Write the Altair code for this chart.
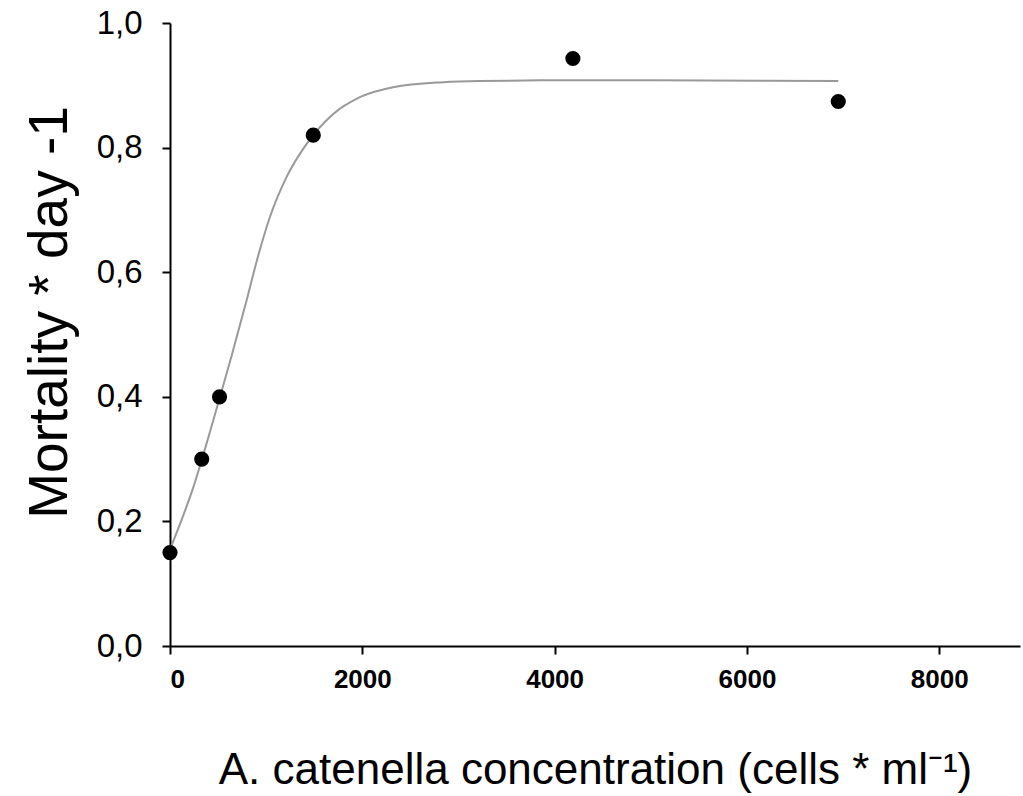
import altair as alt
import pandas as pd

# observed points
obs_x = [0, 330, 515, 1490, 4190, 6950]
obs_y = [0.15, 0.30, 0.40, 0.82, 0.943, 0.874]

# fitted curve
fit_x = [0, 139, 243, 329, 416, 520, 641, 797, 920, 1040, 1213, 1421, 1698, 1975, 2321, 2841, 3222, 4000, 5000, 6950]
fit_y = [0.155, 0.210, 0.255, 0.298, 0.344, 0.400, 0.466, 0.555, 0.628, 0.689, 0.753, 0.806, 0.854, 0.881, 0.897, 0.905, 0.907, 0.908, 0.908, 0.907]

x_ticks = [0, 2000, 4000, 6000, 8000]
y_ticks = [0.0, 0.2, 0.4, 0.6, 0.8, 1.0]

obs = pd.DataFrame({"x": obs_x, "y": obs_y})
fit = pd.DataFrame({"x": fit_x, "y": fit_y})

FONT = "Liberation Sans"

xscale = alt.Scale(domain=[0, 8840], nice=False, zero=False)
yscale = alt.Scale(domain=[0, 1], nice=False)

xaxis = alt.Axis(
    values=x_ticks, format="d", grid=False,
    title="A. catenella concentration (cells * ml\u207b\u00b9)",
    titleFont=FONT, titleFontSize=44, titleFontWeight="normal", titleColor="black",
    titlePadding=56,
    labelFont=FONT, labelFontSize=26, labelFontWeight="bold", labelColor="black",
    labelPadding=12, tickSize=8, tickColor="black", tickWidth=2,
    domainColor="black", domainWidth=2,
)
yaxis = alt.Axis(
    values=y_ticks, grid=False,
    labelExpr="replace(format(datum.value, '.1f'), '.', ',')",
    title="Mortality * day -1",
    titleFont=FONT, titleFontSize=55, titleFontWeight="normal", titleColor="black",
    titlePadding=18, titleY=289,
    labelFont=FONT, labelFontSize=33, labelColor="black",
    labelPadding=20, tickSize=8, tickColor="black", tickWidth=2,
    domainColor="black", domainWidth=2,
)

line = alt.Chart(fit).mark_line(color="#999999", strokeWidth=2, interpolate="monotone").encode(
    x=alt.X("x:Q", scale=xscale, axis=xaxis),
    y=alt.Y("y:Q", scale=yscale, axis=yaxis),
)
pts = alt.Chart(obs).mark_circle(color="black", size=230, opacity=1).encode(
    x=alt.X("x:Q", scale=xscale),
    y=alt.Y("y:Q", scale=yscale),
)

chart = (line + pts).properties(
    width=850, height=623,
    autosize=alt.AutoSizeParams(type="none"),
    padding={"left": 170, "top": 23, "right": 3, "bottom": 150},
    background="white",
).configure_view(stroke=None)

chart.save("out.html", embed_options={"renderer": "svg", "actions": False})
